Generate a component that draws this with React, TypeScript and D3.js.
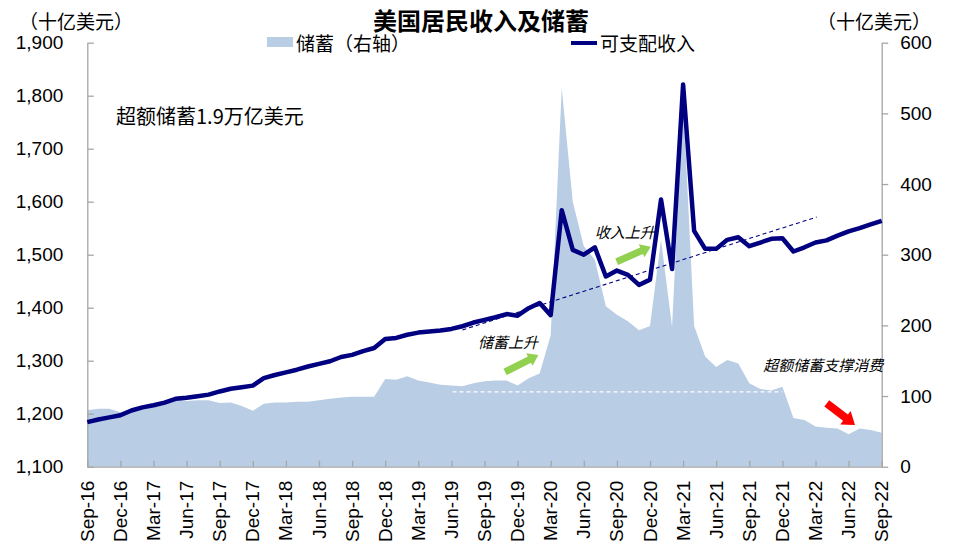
import * as d3 from "d3";
import React from "react";
import { useEffect, RefObject } from "react";

// monthly categories, Sep-16 .. Sep-22
const fmtMonth = d3.timeFormat("%b-%y");
const months: string[] = d3.timeMonth.range(new Date(2016, 8, 1), new Date(2022, 9, 1)).map(fmtMonth);

const tickLabels = [
    "Sep-16", "Dec-16", "Mar-17", "Jun-17", "Sep-17", "Dec-17", "Mar-18", "Jun-18", "Sep-18",
    "Dec-18", "Mar-19", "Jun-19", "Sep-19", "Dec-19", "Mar-20", "Jun-20", "Sep-20", "Dec-20",
    "Mar-21", "Jun-21", "Sep-21", "Dec-21", "Mar-22", "Jun-22", "Sep-22"
];

// disposable income, billion USD (left axis)
const income = [
    1184, 1189, 1193, 1197, 1206, 1212, 1216, 1221, 1228, 1230, 1233, 1236,
    1242, 1247, 1250, 1253, 1267, 1273, 1278, 1283, 1289, 1294,
    1299, 1307, 1311, 1318, 1324, 1341, 1343, 1349, 1353, 1355,
    1357, 1360, 1365, 1372, 1377, 1382, 1388, 1385, 1399, 1409,
    1386, 1584, 1509, 1500, 1514, 1459, 1470, 1462, 1443, 1453,
    1604, 1473, 1821, 1545, 1511, 1511, 1528, 1533, 1516, 1523,
    1530, 1531, 1506, 1514, 1523, 1527, 1536, 1544, 1550, 1557,
    1564
];

// personal saving, billion USD (right axis)
const saving = [
    80, 82, 82, 77, 82, 84, 86, 90, 95, 93, 94, 94,
    90, 91, 86, 79, 89, 91, 91, 92, 92, 94,
    96, 98, 99, 99, 99, 124, 123, 128, 122, 119,
    116, 115, 114, 118, 121, 122, 122, 115, 125, 132,
    186, 536, 375, 312, 293, 227, 215, 206, 193, 199,
    321, 198, 520, 199, 156, 141, 151, 146, 118, 110,
    108, 113, 69, 66, 57, 55, 54, 46, 54, 52,
    48
];

const leftTicks = [1100, 1200, 1300, 1400, 1500, 1600, 1700, 1800, 1900];
const rightTicks = [0, 100, 200, 300, 400, 500, 600];

const CJK = '"Noto Sans CJK SC", sans-serif';
const NUM = '"Liberation Sans", Arial, sans-serif';
const AREA = "#B9CDE5";
const NAVY = "#000080";
const AXIS = "#A6A6A6";

function arrow(g: any, x1: number, y1: number, x2: number, y2: number, s: number, hw: number, hl: number, color: string) {
    const len = Math.hypot(x2 - x1, y2 - y1);
    const ang = Math.atan2(y2 - y1, x2 - x1) * 180 / Math.PI;
    const pts = [[0, -s / 2], [len - hl, -s / 2], [len - hl, -hw / 2], [len, 0], [len - hl, hw / 2], [len - hl, s / 2], [0, s / 2]];
    g.append("polygon")
        .attr("points", pts.map(p => p.join(",")).join(" "))
        .attr("transform", `translate(${x1},${y1}) rotate(${ang})`)
        .attr("fill", color);
}

function drawChart(svgRef: RefObject<SVGSVGElement>) {
    const width = 954;
    const height = 556;
    const margin = { top: 42.7, right: 954 - 881.7, bottom: 556 - 466.7, left: 87.3 };

    const svg = d3.select(svgRef.current)
        .attr("width", width)
        .attr("height", height)
        .attr("viewBox", `0 0 ${width} ${height}`);

    svg.selectAll("*").remove();

    const x = d3.scalePoint<string>()
        .domain(months)
        .range([margin.left, width - margin.right]);

    // fractional month index, for annotations
    const xi = d3.scaleLinear()
        .domain([0, months.length - 1])
        .range([margin.left, width - margin.right]);

    const yL = d3.scaleLinear()
        .domain([1100, 1900])
        .range([height - margin.bottom, margin.top]);

    const yR = d3.scaleLinear()
        .domain([0, 600])
        .range([height - margin.bottom, margin.top]);

    // savings area
    const area = d3.area<number>()
        .x((d, i) => x(months[i]) as number)
        .y0(yR(0))
        .y1(d => yR(d));

    svg.append("path")
        .datum(saving)
        .attr("d", area)
        .attr("fill", AREA);

    // white dashed reference on the savings area
    svg.append("line")
        .attr("x1", xi(33.1)).attr("x2", xi(63))
        .attr("y1", yR(106)).attr("y2", yR(106))
        .attr("stroke", "#fff")
        .attr("stroke-width", 1.3)
        .attr("stroke-dasharray", "4,3");

    // axes
    const yAxisL = d3.axisLeft(yL)
        .tickValues(leftTicks)
        .tickFormat(d3.format(","))
        .tickSizeInner(-6.5)
        .tickSizeOuter(0)
        .tickPadding(24);

    const yAxisR = d3.axisRight(yR)
        .tickValues(rightTicks)
        .tickSizeInner(6.5)
        .tickSizeOuter(0)
        .tickPadding(12);

    const xAxis = d3.axisBottom(x)
        .tickValues(tickLabels)
        .tickSizeInner(-6)
        .tickSizeOuter(0);

    const gL = svg.append("g")
        .attr("transform", `translate(${margin.left},0)`)
        .call(yAxisL);

    const gR = svg.append("g")
        .attr("transform", `translate(${width - margin.right},0)`)
        .call(yAxisR);

    const gX = svg.append("g")
        .attr("transform", `translate(0,${height - margin.bottom})`)
        .call(xAxis);

    [gL, gR, gX].forEach(g => {
        g.attr("color", AXIS)
            .attr("font-family", NUM)
            .attr("font-size", 19);
        g.selectAll("line, path").attr("stroke-width", 1.3);
        g.selectAll("text").attr("fill", "#000");
    });

    gX.selectAll("text")
        .attr("transform", "rotate(-90)")
        .attr("text-anchor", "end")
        .attr("x", -14)
        .attr("y", 0)
        .attr("dy", "0.32em");

    // income line
    const line = d3.line<number>()
        .x((d, i) => x(months[i]) as number)
        .y(d => yL(d));

    svg.append("path")
        .datum(income)
        .attr("d", line)
        .attr("fill", "none")
        .attr("stroke", NAVY)
        .attr("stroke-width", 4.5)
        .attr("stroke-linejoin", "round");

    // income trend
    svg.append("line")
        .attr("x1", xi(34)).attr("y1", yL(1358))
        .attr("x2", xi(66.1)).attr("y2", yL(1571))
        .attr("stroke", NAVY)
        .attr("stroke-width", 1.1)
        .attr("stroke-dasharray", "4,3");

    // titles and units
    svg.append("text")
        .attr("x", 481).attr("y", 30)
        .attr("text-anchor", "middle")
        .style("font", `bold 24px ${CJK}`)
        .text("美国居民收入及储蓄");

    svg.append("text")
        .attr("x", 19).attr("y", 29)
        .style("font", `19px ${CJK}`)
        .text("（十亿美元）");

    svg.append("text")
        .attr("x", 931).attr("y", 29)
        .attr("text-anchor", "end")
        .style("font", `19px ${CJK}`)
        .text("（十亿美元）");

    // legend
    svg.append("rect")
        .attr("x", 267).attr("y", 37).attr("width", 26).attr("height", 10)
        .attr("fill", AREA);
    svg.append("text")
        .attr("x", 296).attr("y", 50.5)
        .style("font", `19px ${CJK}`)
        .text("储蓄（右轴）");
    svg.append("line")
        .attr("x1", 571).attr("x2", 597).attr("y1", 43).attr("y2", 43)
        .attr("stroke", NAVY).attr("stroke-width", 4);
    svg.append("text")
        .attr("x", 600).attr("y", 50.5)
        .style("font", `19px ${CJK}`)
        .text("可支配收入");

    // annotations
    svg.append("text")
        .attr("x", xi(2.6)).attr("y", yL(1747))
        .style("font", `20px ${CJK}`)
        .text("超额储蓄1.9万亿美元");

    const notes = [
        { t: "收入上升", i: 46.0, v: 1532 },
        { t: "储蓄上升", i: 35.4, v: 1324 },
        { t: "超额储蓄支撑消费", i: 61.27, v: 1281.5 },
    ];
    notes.forEach(n => {
        svg.append("text")
            .attr("x", xi(n.i)).attr("y", yL(n.v))
            .style("font", `italic 15px ${CJK}`)
            .text(n.t);
    });

    const ga = svg.append("g");
    arrow(ga, xi(37.86), yL(1278.7), xi(40.88), yL(1310.8), 7, 14, 10, "#92D050");
    arrow(ga, xi(47.98), yL(1486.8), xi(51.07), yL(1515.1), 7, 14, 10, "#92D050");
    arrow(ga, xi(67.02), yL(1219.6), xi(69.58), yL(1178.7), 8, 17, 12, "#FF0000");
}

export default function App() {
    const svg = React.useRef<SVGSVGElement>(null);
    useEffect(() => {
        drawChart(svg);
    });

    return (
        <div style={{ position: "absolute", left: 0, top: 0, width: 954, height: 556, background: "#fff" }}>
            <svg ref={svg}></svg>
        </div>
    )
}
